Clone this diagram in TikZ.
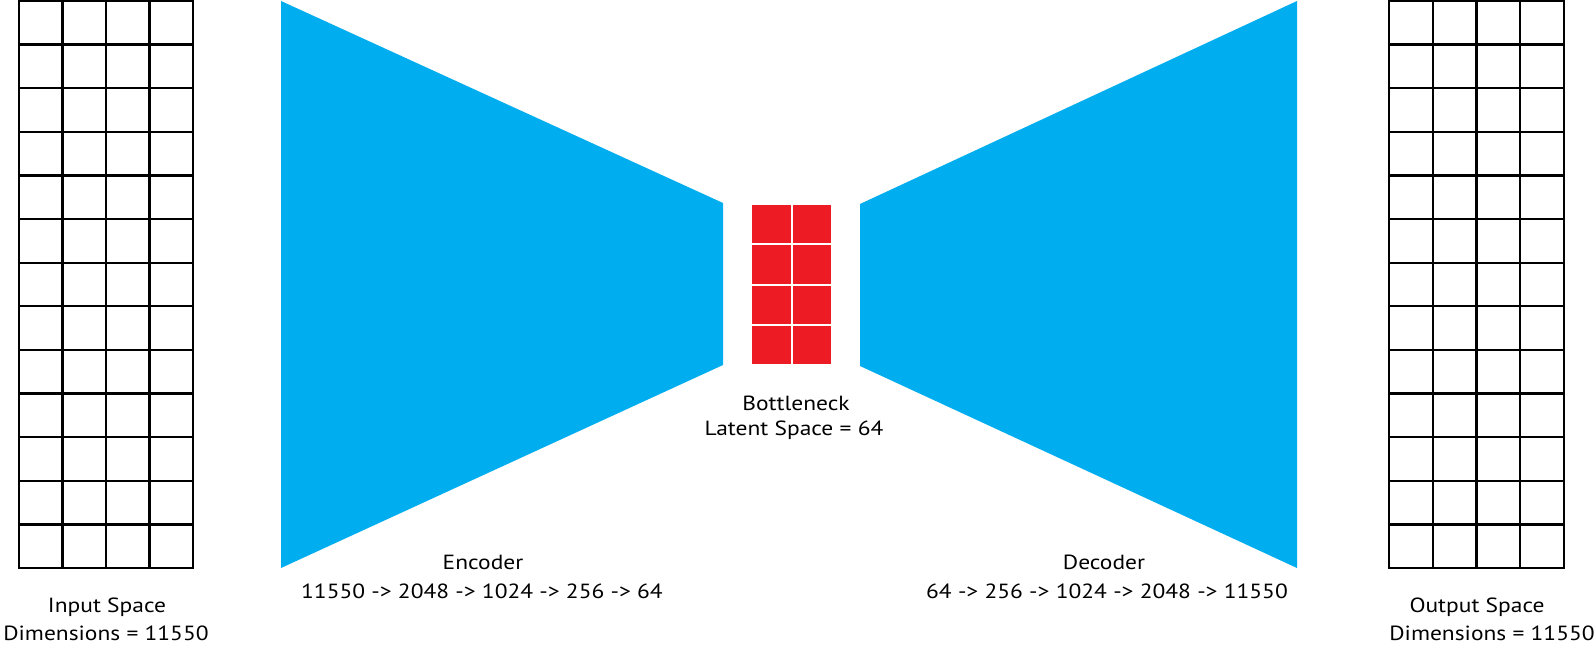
\documentclass[tikz,border=0pt]{standalone}
\usepackage{fontspec}
\setmainfont{PT Sans}[FakeStretch=1.145]
\definecolor{encblue}{HTML}{00AEEF}
\definecolor{latred}{HTML}{ED1C24}
\begin{document}
\begin{tikzpicture}[x=1pt,y=-1pt,
  gridline/.style={line width=2.3pt,black,line cap=rect},
  lbl/.style={anchor=base,inner sep=0pt,font=\fontsize{20.5}{24}\selectfont},
  trap/.style={fill=encblue,draw=none},
  cell/.style={fill=latred,draw=none}]
\useasboundingbox[fill=white] (0,0) rectangle (1596,650);
% input grid
\foreach \i in {0,...,4} \draw[gridline] ({19+\i*43.5},1) -- ({19+\i*43.5},568);
\foreach \j in {0,...,13} \draw[gridline] (19,{1+\j*43.6154}) -- (193,{1+\j*43.6154});
% output grid
\foreach \i in {0,...,4} \draw[gridline] ({1389+\i*43.75},1) -- ({1389+\i*43.75},568);
\foreach \j in {0,...,13} \draw[gridline] (1389,{1+\j*43.6154}) -- (1564,{1+\j*43.6154});
% encoder / decoder
\coordinate (e1) at (281,1); \coordinate (e2) at (723,203);
\coordinate (e3) at (723,365); \coordinate (e4) at (281,568);
\fill[trap] (e1) -- (e2) -- (e3) -- (e4) -- cycle;
\coordinate (d1) at (1297,1); \coordinate (d2) at (860,204);
\coordinate (d3) at (860,366); \coordinate (d4) at (1297,568);
\fill[trap] (d1) -- (d2) -- (d3) -- (d4) -- cycle;
% bottleneck
\foreach \i in {0,1} \foreach \j in {0,...,3}
  \fill[cell] ({752+\i*40.5},{205+\j*40.25}) rectangle ++(38.5,38.25);
% labels
\node[lbl] (in1) at (107,612) {Input Space};
\node[lbl] (in2) at (106,640) {Dimensions = 11550};
\node[lbl] (out1) at (1477,612) {Output Space};
\node[lbl] (out2) at (1492,640) {Dimensions = 11550};
\node[lbl] (enc1) at (483,569) {Encoder};
\node[lbl] (enc2) at (482,598) {11550 -> 2048 -> 1024 -> 256 -> 64};
\node[lbl] (dec1) at (1104,569) {Decoder};
\node[lbl] (dec2) at (1107,598) {64 -> 256 -> 1024 -> 2048 -> 11550};
\node[lbl] (bn1) at (796,410) {Bottleneck};
\node[lbl] (bn2) at (794,435) {Latent Space = 64};
\end{tikzpicture}
\end{document}
